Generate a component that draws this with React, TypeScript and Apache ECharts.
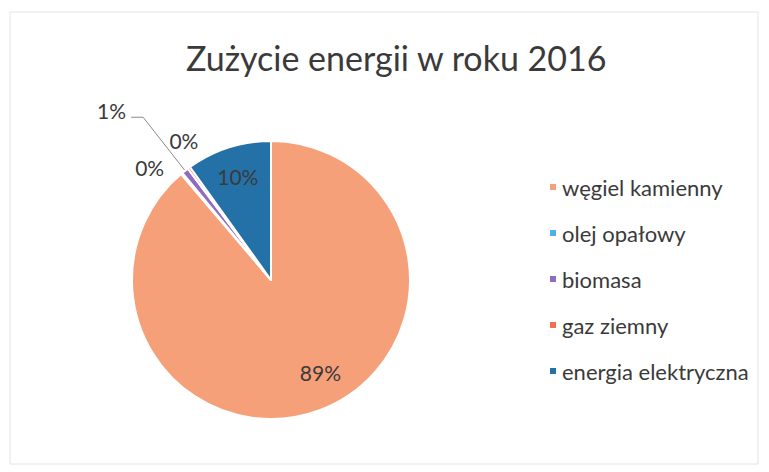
import React, { useEffect, useRef } from "react";
import * as echarts from "echarts";

const categories = ["węgiel kamienny", "olej opałowy", "biomasa", "gaz ziemny", "energia elektryczna"];
const values = [88.8, 0.2, 0.8, 0.3, 9.9];
const colors = ["#F6A07A", "#4DB3E6", "#8E6CC4", "#F0714E", "#2471A8"];
const titleText = "Zużycie energii w roku 2016";

const FONT = "Lato";
const TEXT_COLOR = "#3a3a3a";

export default function App() {
  const ref = useRef<HTMLDivElement>(null);
  useEffect(() => {
    document.body.style.margin = "0";
    const chart = echarts.init(ref.current!, null, { renderer: "svg" });
    const fmt = (p: any) => Math.round(p.percent) + "%";
    const bigIdx = [0, 4];
    const lineLen: Record<number, [number, number]> = { 1: [4, 10], 2: [68, 12], 3: [28, 0] };
    const shift: Record<number, { dx?: number; dy?: number }> = { 1: { dy: -3 }, 2: { dy: -7 }, 3: { dx: 31, dy: -5 } };
    const mainData = categories.map((name, i) => {
      const isBig = bigIdx.includes(i);
      return {
        name,
        value: values[i],
        itemStyle: { color: colors[i] },
        label: isBig ? { show: false } : { show: true, position: "outside" },
        labelLine: isBig
          ? { show: false }
          : { show: i === 2, length: lineLen[i][0], length2: lineLen[i][1] },
      };
    });
    const labelData = categories.map((name, i) => ({
      name,
      value: values[i],
      itemStyle: { color: "rgba(0,0,0,0)" },
      label: { show: bigIdx.includes(i) },
    }));
    chart.setOption({
      animation: false,
      backgroundColor: "#ffffff",
      title: {
        text: titleText,
        left: 181,
        top: 35,
        textStyle: { fontFamily: FONT, fontSize: 34, fontWeight: "normal", color: TEXT_COLOR },
      },
      legend: {
        orient: "vertical",
        left: 543,
        top: 171,
        itemWidth: 8,
        itemHeight: 8,
        itemGap: 24,
        icon: "rect",
        data: categories.map((name, i) => ({ name, itemStyle: { color: colors[i] } })),
        textStyle: { fontFamily: FONT, fontSize: 22, color: TEXT_COLOR },
      },
      series: [
        {
          type: "pie",
          center: [271, 280],
          radius: 139,
          startAngle: 90,
          clockwise: true,
          avoidLabelOverlap: false,
          itemStyle: { borderColor: "#ffffff", borderWidth: 2 },
          label: { formatter: fmt, fontFamily: FONT, fontSize: 21, color: TEXT_COLOR },
          labelLine: { lineStyle: { color: "#8a8a8a", width: 1 } },
          labelLayout: (p: any) => shift[p.dataIndex] || {},
          data: mainData,
        },
        {
          type: "pie",
          center: [271, 280],
          radius: [72, 139],
          startAngle: 90,
          clockwise: true,
          silent: true,
          legendHoverLink: false,
          itemStyle: { color: "rgba(0,0,0,0)", borderWidth: 0 },
          label: { position: "inside", formatter: fmt, fontFamily: FONT, fontSize: 21, color: TEXT_COLOR },
          labelLine: { show: false },
          labelLayout: (p: any) => (p.dataIndex === 0 ? { dx: 12, dy: -9 } : {}),
          emphasis: { disabled: true },
          data: labelData,
        },
      ],
      graphic: [
        {
          type: "rect",
          shape: { x: 10, y: 12, width: 748, height: 452 },
          style: { fill: "none", stroke: "#e4e4e4", lineWidth: 1 },
          silent: true,
        },
      ],
    });
    return () => chart.dispose();
  }, []);
  return <div ref={ref} style={{ position: "fixed", left: 0, top: 0, width: 769, height: 472 }} />;
}
